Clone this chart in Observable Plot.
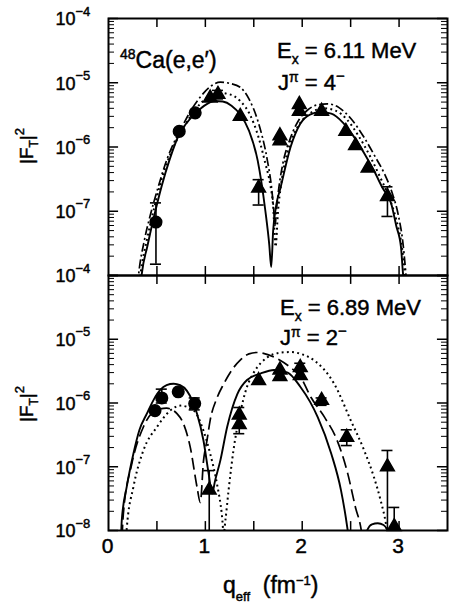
<!DOCTYPE html>
<html>
<head>
<meta charset="utf-8">
<script src="https://cdn.jsdelivr.net/npm/d3@7"></script>
<script src="https://cdn.jsdelivr.net/npm/@observablehq/plot@0.6"></script>
<style>
  body { margin: 0; background: #fff; }
  #chart { position: relative; width: 451px; height: 610px; background: #fff; }
  #chart svg { position: absolute; left: 0; }
</style>
</head>
<body>
<div id="chart"></div>
<script>
// ---------- axis ticks / labels ----------
const xTicks = [0.5, 1, 1.5, 2, 2.5, 3];
const xTickLabels = [0, 1, 2, 3];
const topDecades = [1e-4, 1e-5, 1e-6, 1e-7, 1e-8];
const topDecadeExps = ["−4", "−5", "−6", "−7", "−4"];
const botDecades = [1e-5, 1e-6, 1e-7, 1e-8];
const botDecadeExps = ["−5", "−6", "−7", "−8"];

// ---------- top panel: Ex = 6.11 MeV, J = 4- ----------
const topSolid = [[0.335,8e-9],[0.344,1.07e-8],[0.40,2.8e-8],[0.475,8.9e-8],[0.55,2.5e-7],[0.63,6.3e-7],[0.73,1.58e-6],[0.81,2.4e-6],[0.896,3.3e-6],[0.99,4.4e-6],[1.10,5.2e-6],[1.18,5.1e-6],[1.27,4.4e-6],[1.36,3.2e-6],[1.45,1.8e-6],[1.54,6.2e-7],[1.62,1.0e-7],[1.66,3.0e-8],[1.68,1.35e-8],[1.70,5.0e-8],[1.73,1.2e-7],[1.777,2.35e-7],[1.88,1.0e-6],[1.98,2.3e-6],[2.08,3.2e-6],[2.19,3.5e-6],[2.30,3.3e-6],[2.42,2.4e-6],[2.54,1.4e-6],[2.64,8.0e-7],[2.74,4.3e-7],[2.83,2.3e-7],[2.92,1.3e-7],[2.97,6.0e-8],[3.02,2.75e-8],[3.04,1.1e-8],[3.05,8e-9]];
const topDashDot = [[0.30,7e-9],[0.31,1.0e-8],[0.37,3.5e-8],[0.43,8.5e-8],[0.51,2.3e-7],[0.60,6.2e-7],[0.69,1.3e-6],[0.775,2.3e-6],[0.86,3.9e-6],[0.948,6.0e-6],[1.05,8.7e-6],[1.155,1.02e-5],[1.25,9.8e-6],[1.36,8.5e-6],[1.45,5.6e-6],[1.54,2.6e-6],[1.64,6.2e-7],[1.68,2.6e-7],[1.705,1.1e-7],[1.72,6e-8],[1.735,1.1e-7],[1.76,2.4e-7],[1.80,5.5e-7],[1.88,1.4e-6],[1.97,2.7e-6],[2.05,3.7e-6],[2.15,4.5e-6],[2.26,4.7e-6],[2.38,4.1e-6],[2.50,2.8e-6],[2.64,1.4e-6],[2.75,7.2e-7],[2.85,3.8e-7],[2.93,1.9e-7],[2.99,9e-8],[3.04,3.2e-8],[3.07,1.07e-8],[3.08,7e-9]];
const topDotted = [[0.32,8e-9],[0.33,1.05e-8],[0.40,3.8e-8],[0.47,1.1e-7],[0.55,3.2e-7],[0.65,8.5e-7],[0.775,2.0e-6],[0.90,3.9e-6],[1.02,5.9e-6],[1.13,7.0e-6],[1.25,6.6e-6],[1.36,5.2e-6],[1.46,3.2e-6],[1.55,1.4e-6],[1.62,5.5e-7],[1.67,2.6e-7],[1.70,1.2e-7],[1.725,2.8e-8],[1.75,1.0e-7],[1.78,2.5e-7],[1.83,6.5e-7],[1.90,1.4e-6],[2.00,2.6e-6],[2.10,3.5e-6],[2.22,4.0e-6],[2.34,3.7e-6],[2.46,2.7e-6],[2.58,1.5e-6],[2.70,7.2e-7],[2.80,3.5e-7],[2.90,1.6e-7],[2.97,7.5e-8],[3.03,2.7e-8],[3.06,1.03e-8],[3.07,7e-9]];
const topCircles = [[0.49,6.8e-8],[0.73,1.75e-6],[0.895,3.4e-6]];
const topTriangles = [[1.05,5.8e-6],[1.13,6.6e-6],[1.36,3.0e-6],[1.55,2.3e-7],[1.77,1.5e-6],[1.77,1.25e-6],[1.97,4.6e-6],[1.97,3.6e-6],[2.20,3.6e-6],[2.45,1.75e-6],[2.55,1.05e-6],[2.68,4.7e-7],[2.88,1.7e-7]];
const topErrors = [[0.49,1.5e-8,1.35e-7],[1.13,5.6e-6,7.6e-6],[1.55,1.25e-7,3.1e-7],[2.88,8.3e-8,2.4e-7]];

// ---------- bottom panel: Ex = 6.89 MeV, J = 2- ----------
const botSolid = [[0.13,8e-9],[0.137,1.45e-8],[0.19,5.0e-8],[0.257,1.6e-7],[0.32,3.8e-7],[0.396,6.8e-7],[0.47,1.15e-6],[0.534,1.6e-6],[0.60,1.9e-6],[0.672,2.0e-6],[0.74,1.9e-6],[0.81,1.55e-6],[0.87,1.05e-6],[0.914,6.8e-7],[0.98,2.6e-7],[1.034,7.8e-8],[1.07,3.8e-8],[1.10,6.0e-8],[1.155,1.26e-7],[1.225,4.2e-7],[1.33,1.38e-6],[1.43,2.3e-6],[1.57,2.9e-6],[1.71,3.3e-6],[1.85,3.0e-6],[1.98,1.8e-6],[2.08,1.05e-6],[2.16,6.0e-7],[2.30,1.6e-7],[2.40,4.3e-8],[2.45,1.6e-8],[2.47,1.0e-8],[2.49,6e-9],[2.56,2e-9],[2.64,6e-9],[2.67,1.0e-8],[2.72,1.25e-8],[2.78,1.3e-8],[2.84,1.22e-8],[2.88,1.0e-8],[2.91,7e-9]];
const botDashed = [[0.14,8e-9],[0.153,1.8e-8],[0.24,1.1e-7],[0.36,4.2e-7],[0.45,7.0e-7],[0.534,8.1e-7],[0.60,8.3e-7],[0.66,7.8e-7],[0.707,6.8e-7],[0.775,4.7e-7],[0.845,2.0e-7],[0.914,4.8e-8],[0.948,2.75e-8],[0.98,1.2e-7],[1.017,2.6e-7],[1.05,5.4e-7],[1.12,1.2e-6],[1.19,2.0e-6],[1.28,3.4e-6],[1.36,4.7e-6],[1.45,5.9e-6],[1.53,6.2e-6],[1.60,6.0e-6],[1.75,4.9e-6],[1.88,3.6e-6],[1.98,2.6e-6],[2.09,1.23e-6],[2.23,6.0e-7],[2.36,2.6e-7],[2.47,7.8e-8],[2.55,2.3e-8],[2.61,1.0e-8],[2.63,6e-9]];
const botDotted = [[0.18,7e-9],[0.189,1.1e-8],[0.257,4.8e-8],[0.36,1.8e-7],[0.50,4.2e-7],[0.637,7.6e-7],[0.74,9.1e-7],[0.88,7.6e-7],[0.98,3.7e-7],[1.05,1.6e-7],[1.12,5.4e-8],[1.17,1.8e-8],[1.19,9e-9],[1.207,1.45e-8],[1.24,4.3e-8],[1.29,1.8e-7],[1.36,7.0e-7],[1.43,1.8e-6],[1.50,3.0e-6],[1.64,5.2e-6],[1.76,6.1e-6],[1.88,6.3e-6],[2.00,5.8e-6],[2.12,4.7e-6],[2.33,2.0e-6],[2.50,5.4e-7],[2.64,1.8e-7],[2.74,6.9e-8],[2.81,2.95e-8],[2.865,1.26e-8],[2.88,9e-9],[2.89,6e-9]];
const botCircles = [[0.48,7.6e-7],[0.55,1.2e-6],[0.72,1.5e-6],[0.89,9.8e-7]];
const botTriangles = [[1.04,4.3e-8],[1.35,6.5e-7],[1.35,4.6e-7],[1.55,2.25e-6],[1.77,3.3e-6],[1.77,2.6e-6],[1.98,3.6e-6],[1.98,2.7e-6],[2.20,1.1e-6],[2.46,2.9e-7],[2.88,1.0e-7],[2.95,1.15e-8]];
const botErrors = [[0.55,1.0e-6,1.65e-6],[0.89,7.8e-7,1.2e-6],[1.04,1e-9,8.7e-8],[1.35,3.3e-7,8.5e-7],[1.98,2.4e-6,4.2e-6],[2.20,9.2e-7,1.2e-6],[2.46,2.15e-7,3.8e-7],[2.88,1e-9,1.8e-7],[2.95,1e-9,2.3e-8]];

// ---------- helpers ----------
const FONT = "'Liberation Sans', Arial, Helvetica, sans-serif";
const TEXT_STROKE = 0.45;
const pts = a => a.map(([q, f]) => ({q, f}));
const errs = a => a.map(([q, lo, hi]) => ({q, lo, hi}));

function rich(parts, {x, y, size, anchor = "start", rotate = 0}) {
  const t = d3.create("svg:text")
    .attr("transform", `translate(${x},${y}) rotate(${rotate})`)
    .attr("text-anchor", anchor)
    .attr("font-family", FONT)
    .attr("font-size", size)
    .attr("fill", "black")
    .attr("stroke", "black")
    .attr("stroke-width", TEXT_STROKE);
  let shift = 0;
  for (const p of parts) {
    const s = p.shift || 0;
    t.append("tspan").attr("dy", shift - s).attr("font-size", p.size || size).text(p.text);
    shift = s;
  }
  return t.node();
}
function group(...nodes) {
  const g = d3.create("svg:g");
  nodes.forEach(n => g.node().appendChild(n));
  return g.node();
}

const logTicks = d3.scaleLog().domain([1e-8, 1e-4]).ticks();
const isDecade = v => Math.abs(Math.log10(v) - Math.round(Math.log10(v))) <= 1e-6;
const minorY = logTicks.filter(v => !isDecade(v));
const majorY = logTicks.filter(isDecade);

function panel({height, marginTop, marginBottom, decades, exps, curves, circles, triangles, errors, texts, xLabels}) {
  const tickMarks = [
    Plot.ruleY(minorY, {y: d => d, x1: 0, x2: 0.062, stroke: "black", strokeWidth: 1}),
    Plot.ruleY(minorY, {y: d => d, x1: 3.5 - 0.062, x2: 3.5, stroke: "black", strokeWidth: 1}),
    Plot.ruleY(majorY, {y: d => d, x1: 0, x2: 0.104, stroke: "black", strokeWidth: 1.5}),
    Plot.ruleY(majorY, {y: d => d, x1: 3.5 - 0.104, x2: 3.5, stroke: "black", strokeWidth: 1.5}),
    Plot.ruleX(xTicks, {x: d => d, y1: 1e-8, y2: 1e-8 * 1.38, stroke: "black", strokeWidth: 1.5}),
    Plot.ruleX(xTicks, {x: d => d, y1: 1e-4 / 1.38, y2: 1e-4, stroke: "black", strokeWidth: 1.5})
  ];
  const labelMarks = [
    Plot.text(decades, {y: d => d, frameAnchor: "left", text: () => "10", textAnchor: "end", dx: -33, dy: 1,
      fontSize: 18, stroke: "black", strokeWidth: TEXT_STROKE, fill: "black"}),
    Plot.text(decades, {y: d => d, frameAnchor: "left", text: (d, i) => exps[i], textAnchor: "start", dx: -33, dy: -7,
      fontSize: 13, stroke: "black", strokeWidth: TEXT_STROKE, fill: "black"})
  ];
  if (xLabels) {
    labelMarks.push(Plot.text(xLabels, {x: d => d, frameAnchor: "bottom", text: d => String(d), dy: 22, dx: -1,
      fontSize: 21, stroke: "black", strokeWidth: TEXT_STROKE, fill: "black"}));
  }
  const curveMarks = curves.map(c =>
    Plot.line(pts(c.data), {x: "q", y: "f", curve: "monotone-x", stroke: "black", strokeWidth: c.width || 1.7,
      strokeDasharray: c.dash, strokeLinecap: "butt", clip: true}));
  const e = errs(errors);
  const dataMarks = [
    Plot.ruleX(e, {x: "q", y1: "lo", y2: "hi", stroke: "black", strokeWidth: 1.6, clip: true}),
    Plot.ruleY(e, {y: "hi", x1: d => d.q - 0.057, x2: d => d.q + 0.057, stroke: "black", strokeWidth: 1.6, clip: true}),
    Plot.ruleY(e, {y: "lo", x1: d => d.q - 0.057, x2: d => d.q + 0.057, stroke: "black", strokeWidth: 1.6, clip: true}),
    Plot.dot(pts(circles), {x: "q", y: "f", r: 5.8, fill: "black", stroke: "black", symbol: "circle"}),
    Plot.dot(pts(triangles), {x: "q", y: "f", r: 5.1, fill: "black", stroke: "black", symbol: "triangle"})
  ];
  return Plot.plot({
    width: 451, height, marginLeft: 108, marginRight: 4, marginTop, marginBottom,
    x: {domain: [0, 3.5], axis: null},
    y: {type: "log", domain: [1e-8, 1e-4], axis: null},
    style: {background: "none", overflow: "visible", fontFamily: FONT, color: "black"},
    marks: [
      ...curveMarks,
      ...dataMarks,
      ...tickMarks,
      Plot.frame({stroke: "black", strokeWidth: 2}),
      ...labelMarks,
      () => group(...texts())
    ]
  });
}

const styles = {
  solid: {dash: null, width: 1.9},
  dashDot: {dash: "9,3,2,3", width: 1.7},
  dashed: {dash: "12,5", width: 1.7},
  dotted: {dash: "1.9,3.3", width: 2}
};

const topSvg = panel({
  height: 280, marginTop: 18, marginBottom: 5,
  decades: topDecades, exps: topDecadeExps,
  curves: [
    {data: topDotted, ...styles.dotted},
    {data: topDashDot, ...styles.dashDot},
    {data: topSolid, ...styles.solid}
  ],
  circles: topCircles, triangles: topTriangles, errors: topErrors,
  texts: () => [
    rich([{text: "48", shift: 9, size: 14}, {text: "Ca(e,e′)"}], {x: 120, y: 68, size: 23}),
    rich([{text: "E"}, {text: "x", shift: -6, size: 14}, {text: " = 6.11 MeV"}], {x: 277, y: 58, size: 22}),
    rich([{text: "J"}, {text: "π", shift: 8, size: 14}, {text: " = 4"}, {text: "−", shift: 9, size: 15}], {x: 278, y: 90, size: 22}),
    rich([{text: "|F"}, {text: "T", shift: -5, size: 12}, {text: "|"}, {text: "2", shift: 9, size: 13}], {x: 33, y: 146, size: 19, anchor: "middle", rotate: -90})
  ]
});

const botSvg = panel({
  height: 335, marginTop: 0, marginBottom: 80,
  decades: botDecades, exps: botDecadeExps, xLabels: xTickLabels,
  curves: [
    {data: botDotted, ...styles.dotted},
    {data: botDashed, ...styles.dashed},
    {data: botSolid, ...styles.solid}
  ],
  circles: botCircles, triangles: botTriangles, errors: botErrors,
  texts: () => [
    rich([{text: "E"}, {text: "x", shift: -6, size: 14}, {text: " = 6.89 MeV"}], {x: 280, y: 40, size: 22}),
    rich([{text: "J"}, {text: "π", shift: 8, size: 14}, {text: " = 2"}, {text: "−", shift: 9, size: 15}], {x: 280, y: 70, size: 22}),
    rich([{text: "|F"}, {text: "T", shift: -5, size: 12}, {text: "|"}, {text: "2", shift: 9, size: 13}], {x: 33, y: 129, size: 19, anchor: "middle", rotate: -90}),
    rich([{text: "q"}, {text: "eff", shift: -8, size: 13}, {text: "\u00a0\u00a0(fm"}, {text: "−1", shift: 8, size: 13}, {text: ")"}], {x: 223, y: 318, size: 23})
  ]
});

const chart = document.getElementById("chart");
topSvg.style.top = "0px";
botSvg.style.top = "275px";
chart.appendChild(topSvg);
chart.appendChild(botSvg);
</script>
</body>
</html>
